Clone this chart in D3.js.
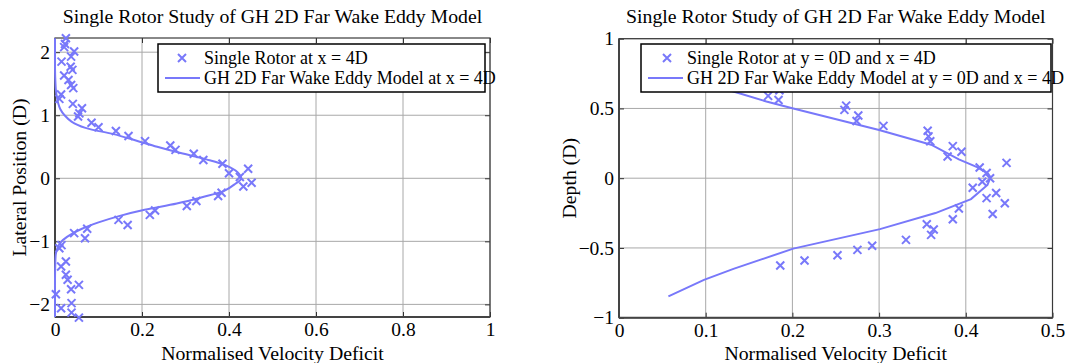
<!DOCTYPE html>
<html><head><meta charset="utf-8">
<script src="https://cdn.jsdelivr.net/npm/d3@7"></script>
<style>
body{margin:0;background:#fff;}
svg text{font-family:"Liberation Serif","DejaVu Serif",serif !important;fill:#000;}
</style></head>
<body><svg id="c" width="1065" height="363" font-family="Liberation Serif"></svg>
<script>
// ---- data: left chart (lateral profile) ----
const leftExpV = [0.025,0.023,0.021,0.044,0.037,0.015,0.036,0.040,0.021,0.031,0.037,0.042,0.014,0.010,0.041,0.062,0.056,0.053,0.084,0.100,0.140,0.169,0.207,0.265,0.277,0.319,0.341,0.385,0.400,0.444,0.425,0.452,0.433,0.383,0.375,0.325,0.303,0.230,0.218,0.146,0.167,0.074,0.044,0.069,0.015,0.010,0.025,0.014,0.025,0.029,0.055,0.037,0.002,0.038,0.014,0.038,0.055];
const leftExpY = [2.22,2.13,2.08,2.01,1.93,1.85,1.77,1.72,1.63,1.56,1.48,1.43,1.33,1.26,1.18,1.11,1.03,0.98,0.88,0.81,0.75,0.67,0.59,0.52,0.45,0.39,0.29,0.23,0.08,0.15,0.02,-0.07,-0.13,-0.23,-0.28,-0.36,-0.44,-0.51,-0.58,-0.66,-0.74,-0.80,-0.87,-0.95,-1.06,-1.11,-1.32,-1.40,-1.53,-1.61,-1.69,-1.76,-1.84,-1.98,-2.06,-2.13,-2.21];
const leftModY = [2.22,2.0,1.8,1.6,1.4,1.3,1.2,1.1,1.0,0.9,0.8,0.7,0.6,0.5,0.4,0.3,0.2,0.1,0.0,-0.1,-0.2,-0.3,-0.4,-0.5,-0.6,-0.7,-0.8,-0.9,-1.0,-1.1,-1.2,-1.4,-1.6,-1.8,-2.0,-2.2];
const leftModV = [0.0,0.0,0.0,0.0005,0.002,0.004,0.007,0.012,0.022,0.038,0.07,0.135,0.186,0.235,0.289,0.348,0.394,0.419,0.428,0.412,0.389,0.338,0.28,0.206,0.147,0.100,0.062,0.034,0.015,0.006,0.002,0.0005,0.0,0.0,0.0,0.0];

// ---- data: right chart (depth profile) ----
const rightExpV = [0.172,0.185,0.184,0.262,0.260,0.276,0.274,0.305,0.356,0.357,0.359,0.385,0.379,0.395,0.416,0.424,0.428,0.447,0.419,0.408,0.424,0.435,0.445,0.431,0.392,0.385,0.355,0.363,0.360,0.331,0.292,0.275,0.252,0.214,0.186];
const rightExpY = [0.59,0.63,0.56,0.52,0.49,0.45,0.41,0.375,0.34,0.30,0.265,0.23,0.155,0.19,0.077,0.037,0.0,0.11,-0.026,-0.068,-0.143,-0.106,-0.18,-0.257,-0.217,-0.294,-0.33,-0.368,-0.406,-0.442,-0.484,-0.514,-0.552,-0.59,-0.626];
const rightModV = [0.06,0.09,0.13,0.17,0.201,0.30,0.36,0.392,0.413,0.426,0.428,0.425,0.406,0.365,0.301,0.201,0.132,0.098,0.057];
const rightModY = [0.80,0.72,0.625,0.55,0.50,0.345,0.24,0.135,0.08,0.03,0.0,-0.048,-0.15,-0.25,-0.365,-0.505,-0.65,-0.729,-0.847];

const leftXTicks = [0,0.2,0.4,0.6,0.8,1];
const leftYTicks = [-2,-1,0,1,2];
const rightXTicks = [0,0.1,0.2,0.3,0.4,0.5];
const rightYTicks = [-1,-0.5,0,0.5,1];

const title = "Single Rotor Study of GH 2D Far Wake Eddy Model";
const xLabel = "Normalised Velocity Deficit";
const color = "#7878fa";
const FONT = "'Liberation Serif','DejaVu Serif',serif";

const svg = d3.select("#c");

function panel(o){
  const g = svg.append("g");
  const x = d3.scaleLinear().domain(o.xDom).range([o.l,o.r]);
  const y = d3.scaleLinear().domain(o.yDom).range([o.b,o.t]);
  // grid
  g.append("g").selectAll("line").data(o.xTicks).join("line")
    .attr("x1",d=>x(d)).attr("x2",d=>x(d)).attr("y1",o.t).attr("y2",o.b)
    .attr("stroke","#a8a8a8").attr("stroke-width",1);
  g.append("g").selectAll("line").data(o.yTicks).join("line")
    .attr("y1",d=>y(d)).attr("y2",d=>y(d)).attr("x1",o.l).attr("x2",o.r)
    .attr("stroke","#a8a8a8").attr("stroke-width",1);
  // axes with inner ticks
  const ax = d3.axisBottom(x).tickValues(o.xTicks).tickSizeInner(-5).tickSizeOuter(0).tickPadding(12).tickFormat(d3.format(""));
  const ay = d3.axisLeft(y).tickValues(o.yTicks).tickSizeInner(-5).tickSizeOuter(0).tickPadding(5).tickFormat(d3.format(""));
  const axT = d3.axisTop(x).tickValues(o.xTicks).tickSizeInner(-5).tickSizeOuter(0).tickFormat("");
  const ayR = d3.axisRight(y).tickValues(o.yTicks).tickSizeInner(-5).tickSizeOuter(0).tickFormat("");
  const gx = g.append("g").attr("transform",`translate(0,${o.b})`).call(ax);
  const gy = g.append("g").attr("transform",`translate(${o.l},0)`).call(ay);
  const gxt = g.append("g").attr("transform",`translate(0,${o.t})`).call(axT);
  const gyr = g.append("g").attr("transform",`translate(${o.r},0)`).call(ayR);
  [gx,gy,gxt,gyr].forEach(a=>{
    a.attr("font-family",FONT).attr("font-size",19.5);
    a.select(".domain").remove();
    a.selectAll(".tick line").attr("stroke","#333").attr("stroke-width",1);
    a.selectAll("text").attr("fill","#000");
  });
  gx.selectAll("text").attr("dy","0.36em");
  // box
  g.append("rect").attr("x",o.l).attr("y",o.t).attr("width",o.r-o.l).attr("height",o.b-o.t)
    .attr("fill","none").attr("stroke","#3a3a3a").attr("stroke-width",1.2);
  g.append("line").attr("x1",o.l).attr("x2",o.l).attr("y1",o.t).attr("y2",o.b).attr("stroke","#444").attr("stroke-width",2);
  g.append("line").attr("x1",o.l).attr("x2",o.r).attr("y1",o.b).attr("y2",o.b).attr("stroke","#444").attr("stroke-width",2);

  // model line
  const line = d3.line().x(d=>x(d[0])).y(d=>y(d[1])).curve(o.curve);
  g.append("path").datum(d3.zip(o.modV,o.modY)).attr("d",line)
    .attr("fill","none").attr("stroke",color).attr("stroke-width",2);
  // experimental markers
  const s = 4;
  g.append("g").selectAll("path").data(d3.zip(o.expV,o.expY)).join("path")
    .attr("d",d=>{const cx=x(d[0]),cy=y(d[1]);return `M${cx-s},${cy-s}L${cx+s},${cy+s}M${cx-s},${cy+s}L${cx+s},${cy-s}`;})
    .attr("stroke",color).attr("stroke-width",2).attr("fill","none");

  // title & labels
  svg.append("text").attr("x",(o.l+o.r)/2).attr("y",23).attr("text-anchor","middle")
    .attr("font-family",FONT).attr("font-size",19.8).text(title);
  svg.append("text").attr("x",(o.l+o.r)/2).attr("y",359.5).attr("text-anchor","middle")
    .attr("font-family",FONT).attr("font-size",19.8).text(xLabel);
  svg.append("text").attr("transform",`translate(${o.yl},${(o.t+o.b)/2}) rotate(-90)`).attr("text-anchor","middle")
    .attr("dy","0.35em").attr("font-family",FONT).attr("font-size",19.8).text(o.yLabel);

  // legend
  const lg = svg.append("g").attr("font-family",FONT).attr("font-size",18);
  lg.append("rect").attr("x",o.lg.x0).attr("y",44).attr("width",o.lg.x1-o.lg.x0).attr("height",48)
    .attr("fill","#fff").attr("stroke","#000").attr("stroke-width",1.5);
  const mx = o.lg.mx, my = 58;
  lg.append("path").attr("d",`M${mx-s},${my-s}L${mx+s},${my+s}M${mx-s},${my+s}L${mx+s},${my-s}`)
    .attr("stroke",color).attr("stroke-width",2);
  lg.append("line").attr("x1",o.lg.l0).attr("x2",o.lg.l1).attr("y1",78).attr("y2",78)
    .attr("stroke",color).attr("stroke-width",2);
  lg.append("text").attr("x",o.lg.tx).attr("y",58).attr("dy","0.35em").text(o.lg.t1);
  lg.append("text").attr("x",o.lg.tx).attr("y",78).attr("dy","0.35em").text(o.lg.t2);
}

panel({l:55,r:490,t:38,b:317,xDom:[0,1],yDom:[-2.2,2.225],xTicks:leftXTicks,yTicks:leftYTicks,
  expV:leftExpV,expY:leftExpY,modV:leftModV,modY:leftModY,curve:d3.curveCatmullRom,
  yLabel:"Lateral Position (D)",yl:19,
  lg:{x0:158,x1:485,mx:182,l0:165,l1:200,tx:204,t1:"Single Rotor at x = 4D",t2:"GH 2D Far Wake Eddy Model at x = 4D"}});
panel({l:619,r:1052.5,t:38.7,b:317.7,xDom:[0,0.5],yDom:[-1,1],xTicks:rightXTicks,yTicks:rightYTicks,
  expV:rightExpV,expY:rightExpY,modV:rightModV,modY:rightModY,curve:d3.curveLinear,
  yLabel:"Depth (D)",yl:569,
  lg:{x0:641,x1:1051,mx:667,l0:648,l1:683,tx:687,t1:"Single Rotor at y = 0D and x = 4D",t2:"GH 2D Far Wake Eddy Model at y = 0D and x = 4D"}});
</script></body></html>
